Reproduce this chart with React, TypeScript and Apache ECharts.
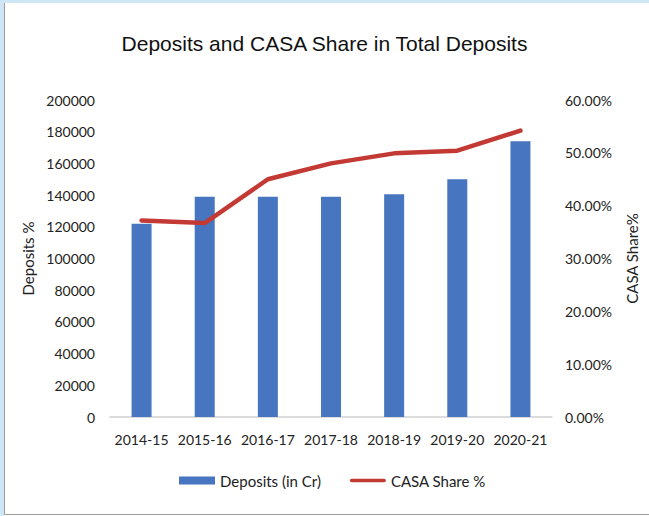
import React, { useEffect, useRef } from "react";
import * as echarts from "echarts";

const categories = ["2014-15", "2015-16", "2016-17", "2017-18", "2018-19", "2019-20", "2020-21"];
const deposits = [122000, 139000, 139000, 139000, 140500, 150000, 174000];
const casaShare = [37.2, 36.7, 45.0, 48.0, 49.9, 50.4, 54.2];

const labelFont = "Lato, 'Noto Sans', sans-serif";

export default function App() {
  const ref = useRef<HTMLDivElement>(null);
  useEffect(() => {
    document.body.style.margin = "0";
    const chart = echarts.init(ref.current!, null, { renderer: "svg" });
    chart.setOption({
      animation: false,
      backgroundColor: "#ffffff",
      graphic: [
        { type: "rect", shape: { x: 0, y: 0, width: 649, height: 3 }, style: { fill: "#cfe6f5" }, silent: true },
        { type: "rect", shape: { x: 0, y: 0, width: 4, height: 516 }, style: { fill: "#cfe6f5" }, silent: true },
        { type: "rect", shape: { x: 4.5, y: 2.5, width: 660, height: 512 }, style: { fill: "none", stroke: "#9b9b9b", lineWidth: 1 }, silent: true, z: -1 },
      ],
      title: {
        text: "Deposits and CASA Share in Total Deposits",
        left: "center",
        top: 28,
        textStyle: { fontFamily: "'Liberation Sans', Arial, sans-serif", fontSize: 21, fontWeight: "normal", color: "#111" },
      },
      grid: { left: 110, right: 97, top: 100, bottom: 99 },
      legend: {
        left: 174,
        top: 468,
        itemGap: 29,
        itemWidth: 36,
        itemHeight: 8,
        textStyle: { fontFamily: labelFont, fontSize: 15, color: "#222" },
        data: [
          { name: "Deposits (in Cr)", icon: "path://M0,0H36V8H0Z" },
          { name: "CASA Share %", icon: "path://M2,0H38A2,2 0 0 1 38,4H2A2,2 0 0 1 2,0Z" },
        ],
      },
      xAxis: {
        type: "category",
        data: categories,
        axisLine: { lineStyle: { color: "#d0d0d0", width: 1.5 } },
        axisTick: { show: false },
        axisLabel: { interval: 0, margin: 15, fontFamily: labelFont, fontSize: 14, color: "#222" },
      },
      yAxis: [
        {
          type: "value",
          min: 0,
          max: 200000,
          interval: 20000,
          name: "Deposits %",
          nameLocation: "middle",
          nameRotate: 90,
          nameGap: 74,
          nameTextStyle: { fontFamily: labelFont, fontSize: 15, color: "#222" },
          splitLine: { show: false },
          axisLine: { show: false },
          axisTick: { show: false },
          axisLabel: {
            margin: 15,
            fontFamily: labelFont,
            fontSize: 14,
            color: "#222",
            formatter: (v: number) => String(v),
          },
        },
        {
          type: "value",
          min: 0,
          max: 60,
          interval: 10,
          name: "CASA Share%",
          nameLocation: "middle",
          nameRotate: 90,
          nameGap: 72,
          nameTextStyle: { fontFamily: labelFont, fontSize: 15, color: "#222" },
          splitLine: { show: false },
          axisLine: { show: false },
          axisTick: { show: false },
          axisLabel: {
            margin: 13,
            fontFamily: labelFont,
            fontSize: 14,
            color: "#222",
            formatter: (v: number) => v.toFixed(2) + "%",
          },
        },
      ],
      series: [
        {
          name: "Deposits (in Cr)",
          type: "bar",
          data: deposits,
          barWidth: 20,
          itemStyle: { color: "#4775BF" },
        },
        {
          name: "CASA Share %",
          type: "line",
          yAxisIndex: 1,
          data: casaShare,
          symbol: "none",
          lineStyle: { color: "#C33A34", width: 4.5, cap: "round", join: "round" },
          itemStyle: { color: "#C33A34" },
        },
      ],
    });
    return () => chart.dispose();
  }, []);
  return <div ref={ref} style={{ width: 649, height: 516 }} />;
}
